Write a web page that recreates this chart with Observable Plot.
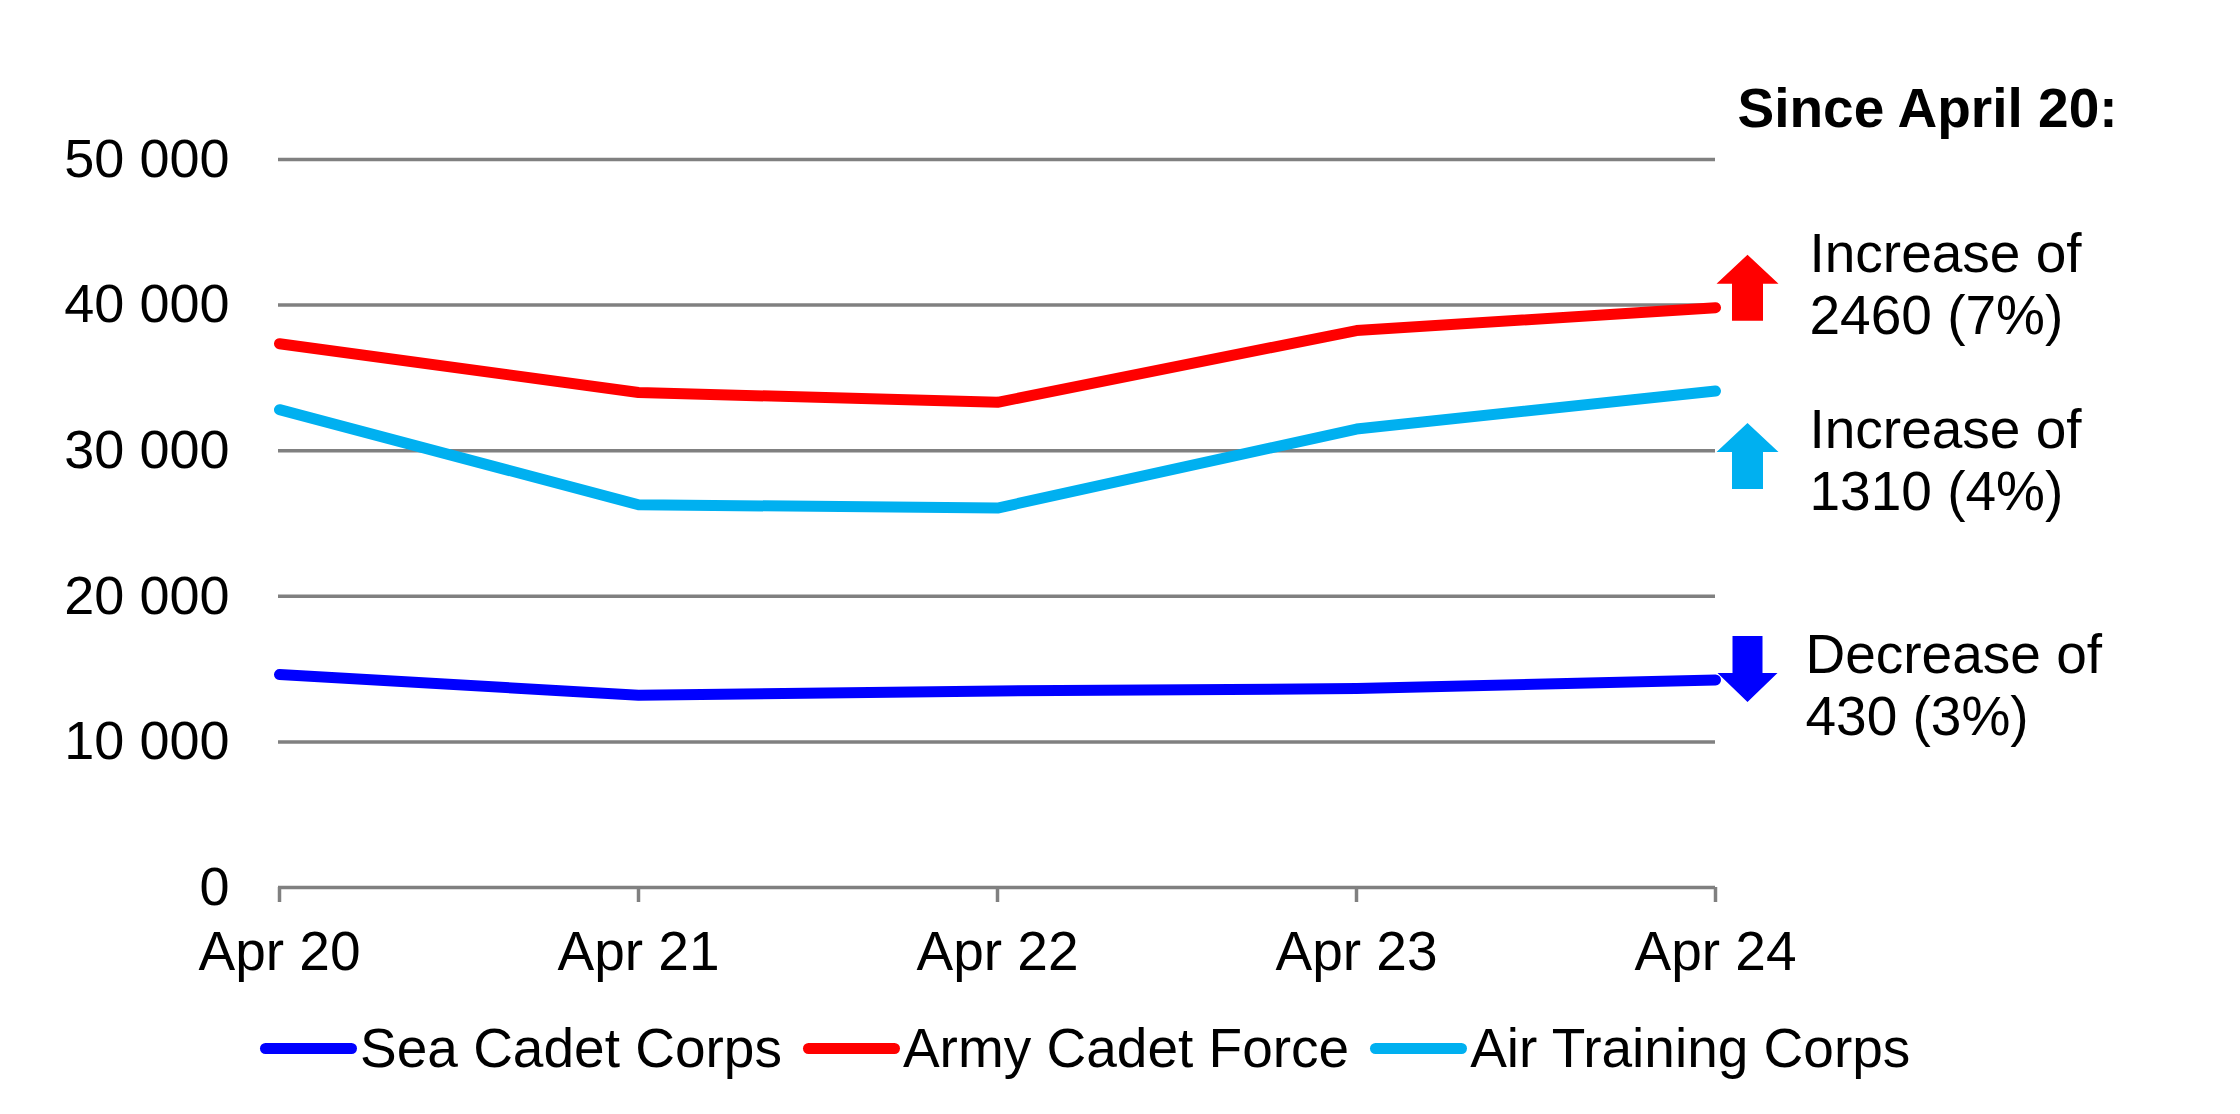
<!DOCTYPE html>
<html>
<head>
<meta charset="utf-8">
<script src="https://cdn.jsdelivr.net/npm/d3@7"></script>
<script src="https://cdn.jsdelivr.net/npm/@observablehq/plot@0.6"></script>
<style>
  html, body { margin: 0; padding: 0; background: #fff; }
  body { font-family: "Liberation Sans", Arial, sans-serif; }
  #wrap { position: relative; width: 2240px; height: 1114px; overflow: hidden; }
  #legend { position: absolute; left: 260px; top: 1018px; height: 60px; display: flex; align-items: center;
            font-size: 55px; color: #000; white-space: nowrap; }
  .item { display: flex; align-items: center; margin-right: 21px; }
  .sw { width: 97px; height: 11px; border-radius: 5.5px; margin-right: 3px; }
</style>
</head>
<body>
<div id="wrap"><div id="chart"></div><div id="legend"></div></div>
<script>
// ---- data ----
const periods = ["Apr 20", "Apr 21", "Apr 22", "Apr 23", "Apr 24"];
const seriesNames = ["Sea Cadet Corps", "Army Cadet Force", "Air Training Corps"];
const seriesColors = ["#0000FF", "#FF0000", "#00B0F0"];
const seaCadet = [14630, 13210, 13500, 13660, 14250];
const armyCadet = [37350, 34000, 33320, 38250, 39820];
const airTraining = [32820, 26290, 26060, 31490, 34100];
const yTicks = [0, 10000, 20000, 30000, 40000, 50000];
const yTickLabels = ["0", "10 000", "20 000", "30 000", "40 000", "50 000"];
const sinceTitle = "Since April 20:";
const changeTexts = ["Decrease of\n430 (3%)", "Increase of\n2460 (7%)", "Increase of\n1310 (4%)"];
const changeDirections = ["down", "up", "up"];

// ---- build table ----
const seriesValues = [seaCadet, armyCadet, airTraining];
const rows = [];
seriesNames.forEach((name, s) => periods.forEach((p, i) => rows.push({series: name, period: p, value: seriesValues[s][i]})));

// ---- styles (pixel offsets for annotations) ----
const annoStyle = [
  {arrowDy: -11, textDy: -25, textDx: 90},
  {arrowDy: -20, textDy: -53, textDx: 94},
  {arrowDy: 65, textDy: 39, textDx: 94}
];
const lineGap = 62;

const arrowUp = {draw(ctx) {
  ctx.moveTo(0, -33); ctx.lineTo(31, -4); ctx.lineTo(15.5, -4); ctx.lineTo(15.5, 33);
  ctx.lineTo(-15.5, 33); ctx.lineTo(-15.5, -4); ctx.lineTo(-31, -4); ctx.closePath();
}};
const arrowDown = {draw(ctx) {
  ctx.moveTo(0, 33); ctx.lineTo(30, 4); ctx.lineTo(15, 4); ctx.lineTo(15, -33);
  ctx.lineTo(-15, -33); ctx.lineTo(-15, 4); ctx.lineTo(-30, 4); ctx.closePath();
}};

const last = periods[periods.length - 1];
const annoMarks = [];
seriesNames.forEach((name, s) => {
  const endVal = seriesValues[s][periods.length - 1];
  const st = annoStyle[s];
  annoMarks.push(Plot.dot([{series: name, period: last, value: endVal}], {
    x: "period", y: "value", fill: "series", stroke: null, r: 10,
    symbol: changeDirections[s] === "up" ? arrowUp : arrowDown, dx: 32, dy: st.arrowDy
  }));
  changeTexts[s].split("\n").forEach((line, k) => {
    annoMarks.push(Plot.text([{t: line, period: last, value: endVal}], {
      x: "period", y: "value", text: "t", textAnchor: "start", lineAnchor: "middle",
      fontSize: 55, fill: "black", dx: st.textDx, dy: st.textDy + k * lineGap
    }));
  });
});

const chart = Plot.plot({
  width: 2240,
  height: 1000,
  marginLeft: 278,
  marginRight: 525,
  marginTop: 159,
  marginBottom: 113,
  style: {fontFamily: "'Liberation Sans', Arial, sans-serif", background: "white", color: "black", overflow: "visible"},
  x: {type: "point", domain: periods, padding: 0},
  y: {domain: [0, 50000]},
  color: {domain: seriesNames, range: seriesColors},
  marks: [
    Plot.ruleY(yTicks, {stroke: "#808080", strokeWidth: 3.5}),
    Plot.axisY({ticks: yTicks, tickFormat: d => yTickLabels[yTicks.indexOf(d)], tickSize: 0, tickPadding: 49,
      fontSize: 54, fill: "black", label: null}),
    Plot.axisX({tickSize: 15, tickPadding: 28, fontSize: 55, stroke: "#808080", strokeWidth: 3.5,
      fill: "black", label: null}),
    Plot.line(rows, {x: "period", y: "value", z: "series", stroke: "series", strokeWidth: 11,
      strokeLinecap: "round", strokeLinejoin: "round"}),
    ...annoMarks,
    Plot.text([sinceTitle], {x: () => last, y: () => yTicks[yTicks.length - 1], text: d => d,
      textAnchor: "start", lineAnchor: "middle", fontSize: 55, fontWeight: "bold", fill: "black", dx: 22, dy: -50})
  ]
});
document.getElementById("chart").appendChild(chart);

const legend = document.getElementById("legend");
seriesNames.forEach((name, s) => {
  const it = document.createElement("div");
  it.className = "item";
  const sw = document.createElement("div");
  sw.className = "sw";
  sw.style.background = seriesColors[s];
  const lb = document.createElement("span");
  lb.textContent = name;
  it.appendChild(sw); it.appendChild(lb);
  legend.appendChild(it);
});
</script>
</body>
</html>
